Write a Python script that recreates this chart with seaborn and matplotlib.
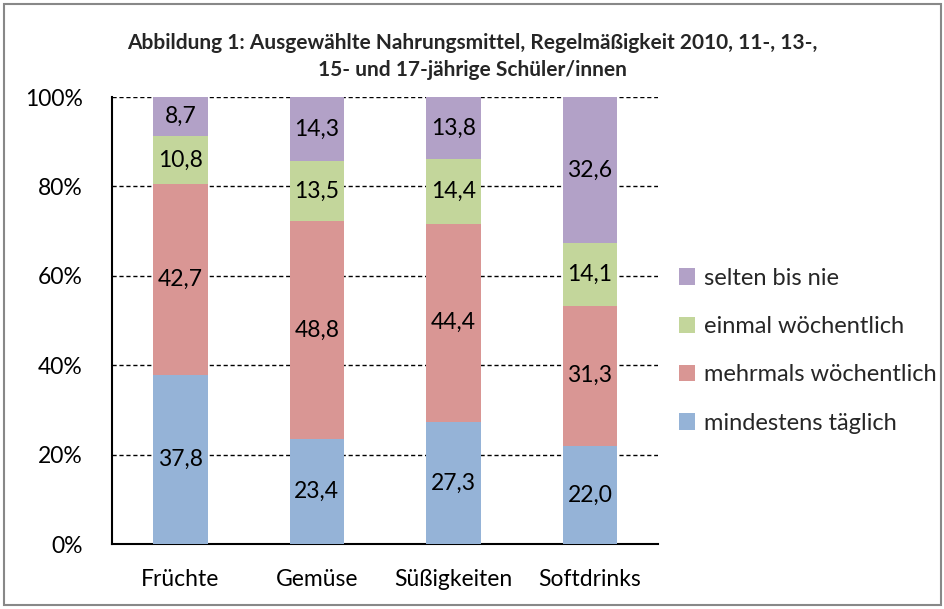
import numpy as np
import pandas as pd
import matplotlib
matplotlib.use("Agg")
import matplotlib.pyplot as plt
import seaborn as sns
from matplotlib.patches import Patch, Rectangle

categories = ["Früchte", "Gemüse", "Süßigkeiten", "Softdrinks"]
series = ["mindestens täglich", "mehrmals wöchentlich", "einmal wöchentlich", "selten bis nie"]
mindestens = [37.8, 23.4, 27.3, 22.0]
mehrmals = [42.7, 48.8, 44.4, 31.3]
einmal = [10.8, 13.5, 14.4, 14.1]
selten = [8.7, 14.3, 13.8, 32.6]
colors = ["#95B3D7", "#D99694", "#C3D69B", "#B2A1C7"]

title = "Abbildung 1: Ausgewählte Nahrungsmittel, Regelmäßigkeit 2010, 11-, 13-,\n15- und 17-jährige Schüler/innen"

sns.set_style("white")
plt.rcParams["font.family"] = ["Lato", "DejaVu Sans"]

values = np.array([mindestens, mehrmals, einmal, selten])
cum = values.cumsum(axis=0)

fig = plt.figure(figsize=(9.45, 6.09), dpi=100)
ax = fig.add_axes([0.1185, 0.1067, 0.578, 0.734])

# draw cumulative bars from top layer down so each layer covers the one below
for i in range(len(series) - 1, -1, -1):
    df = pd.DataFrame({"cat": categories, "val": cum[i]})
    sns.barplot(data=df, x="cat", y="val", color=colors[i], width=0.4,
                saturation=1, ax=ax, zorder=3, order=categories,
                linewidth=0, edgecolor="none")

for j, cat in enumerate(categories):
    for i in range(len(series)):
        mid = cum[i, j] - values[i, j] / 2
        ax.text(j, mid, f"{values[i, j]:.1f}".replace(".", ","), ha="center",
                va="center", fontsize=16.5, color="black", zorder=4)

ax.set_xlim(-0.5, 3.5)
ax.set_ylim(0, 100)
ax.set_yticks(np.arange(0, 101, 20))
ax.set_yticklabels([f"{v}%" for v in range(0, 101, 20)], fontsize=16.5, color="black")
ax.yaxis.grid(True, color="black", linestyle=(0, (3, 2)), linewidth=1)
ax.set_axisbelow(True)
ax.set_xlabel("")
ax.set_ylabel("")
ax.tick_params(axis="x", which="major", length=0, labelsize=16.5, pad=18,
               labelcolor="black")
ax.set_xticks(np.arange(-0.5, 4, 1), minor=True)
ax.tick_params(axis="x", which="minor", length=7, width=1.5, direction="out")
ax.tick_params(axis="y", length=7, width=1.5, direction="out", pad=14)
for s in ["top", "right"]:
    ax.spines[s].set_visible(False)
for s in ["left", "bottom"]:
    ax.spines[s].set_color("black")
    ax.spines[s].set_linewidth(1.5)

handles = [Patch(facecolor=colors[i], edgecolor="none") for i in range(3, -1, -1)]
labels = [series[i] for i in range(3, -1, -1)]
fig.legend(handles, labels, loc="center left", bbox_to_anchor=(0.718, 0.424),
           frameon=False, fontsize=17, handlelength=0.7, handleheight=0.7,
           handletextpad=0.4, labelspacing=1.16, borderaxespad=0, borderpad=0)

fig.text(0.5, 0.907, title, ha="center", va="center", fontsize=15,
         fontweight="bold", linespacing=1.45)

fig.patches.append(Rectangle((0.004, 0.006), 0.992, 0.988, transform=fig.transFigure,
                             fill=False, edgecolor="#888888", linewidth=1.5))

fig.savefig("out.png", dpi=100)
